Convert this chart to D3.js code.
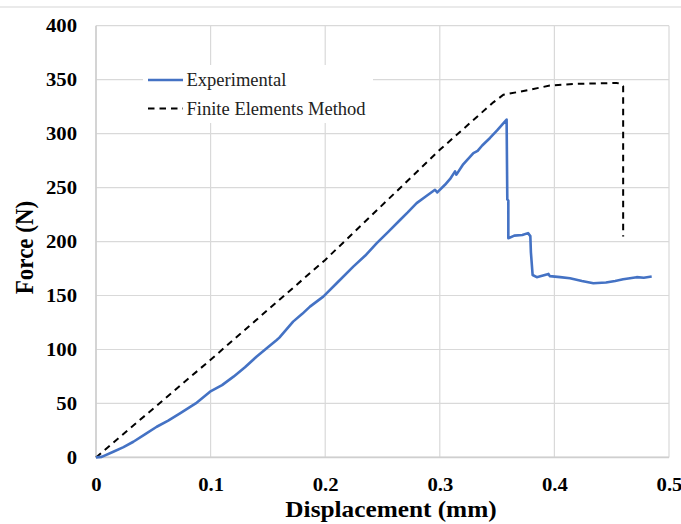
<!DOCTYPE html>
<html>
<head>
<meta charset="utf-8">
<script src="https://cdn.jsdelivr.net/npm/d3@7"></script>
<style>
  html, body { margin: 0; padding: 0; background: #fff; }
  svg { display: block; }
</style>
</head>
<body>
<svg id="chart" width="681" height="524"></svg>
<script>
// ---- data ----
const xTicks = [0, 0.1, 0.2, 0.3, 0.4, 0.5];
const xTickLabels = ["0", "0.1", "0.2", "0.3", "0.4", "0.5"];
const yTicks = [0, 50, 100, 150, 200, 250, 300, 350, 400];
const yTickLabels = ["0", "50", "100", "150", "200", "250", "300", "350", "400"];
const seriesNames = ["Experimental", "Finite Elements Method"];

const expX = [0, 0.005, 0.0151, 0.024, 0.0326, 0.043, 0.053, 0.063, 0.0733, 0.087, 0.0995, 0.11, 0.12, 0.13, 0.14, 0.15, 0.1577, 0.16, 0.172, 0.18, 0.1867, 0.1983, 0.21, 0.2245, 0.235, 0.245, 0.255, 0.2653, 0.272, 0.2798, 0.288, 0.2958, 0.2978, 0.3045, 0.309, 0.3133, 0.3145, 0.32, 0.3293, 0.333, 0.337, 0.3438, 0.35, 0.3583, 0.3589, 0.3598, 0.3598, 0.365, 0.372, 0.377, 0.379, 0.3795, 0.381, 0.3846, 0.3948, 0.396, 0.405, 0.4136, 0.424, 0.434, 0.445, 0.453, 0.46, 0.4718, 0.478, 0.4849];
const expY = [0, 0.5, 5.2, 9.5, 14.5, 21.5, 28.4, 34, 40.8, 50, 60.9, 67, 74.8, 83.5, 93.3, 102, 108.8, 111, 125.8, 133, 139.7, 149, 161.4, 176.8, 187, 198.5, 209, 220, 227, 235.6, 242, 248, 245.5, 252.6, 258, 265, 262, 271, 282, 284, 289, 296, 303, 313, 239, 238, 203, 205.5, 206, 207.8, 205, 190, 169, 167, 170, 168, 167, 166, 163.5, 161.4, 162, 163.5, 165, 167, 166.5, 167.6];

const femX = [0, 0.1, 0.2, 0.3, 0.3467, 0.3555, 0.373, 0.396, 0.4165, 0.4543, 0.4585, 0.46, 0.46];
const femY = [0, 90.5, 183, 285, 329, 336, 339.5, 344.5, 346, 347, 346, 343.8, 204.6];

// ---- layout ----
const FONT = "'Liberation Serif', 'Times New Roman', serif";
const svg = d3.select("#chart");
const x = d3.scaleLinear().domain([0, 0.5]).range([96, 669]);
const y = d3.scaleLinear().domain([0, 400]).range([457.4, 25.7]);

// top border line
svg.append("line").attr("x1", 0).attr("x2", 681).attr("y1", 7).attr("y2", 7)
  .attr("stroke", "#e3e3e3").attr("stroke-width", 1.5);

// gridlines
const grid = svg.append("g");
grid.selectAll(".hg").data(yTicks).join("line")
  .attr("x1", x(0)).attr("x2", x(0.5))
  .attr("y1", d => y(d)).attr("y2", d => y(d))
  .attr("stroke", "#d9d9d9").attr("stroke-width", 1.2);
grid.selectAll(".vg").data(xTicks).join("line")
  .attr("x1", d => x(d)).attr("x2", d => x(d))
  .attr("y1", y(0)).attr("y2", y(400))
  .attr("stroke", "#d9d9d9").attr("stroke-width", 1.2);
svg.append("line").attr("x1", x(0)).attr("x2", x(0)).attr("y1", y(0)).attr("y2", y(400))
  .attr("stroke", "#cfcfcf").attr("stroke-width", 1.6);
svg.append("line").attr("x1", x(0)).attr("x2", x(0.5)).attr("y1", y(0)).attr("y2", y(0))
  .attr("stroke", "#cfcfcf").attr("stroke-width", 1.6);

// axes (labels only); text is stretched horizontally like the reference
const SX = 1.15;
const xAxis = d3.axisBottom(x).tickValues(xTicks).tickSize(0).tickPadding(21)
  .tickFormat((d, i) => xTickLabels[i]);
const gx = svg.append("g").attr("transform", `translate(0,${y(0)})`).call(xAxis);
gx.select(".domain").remove();
gx.selectAll("text").attr("font-family", FONT)
  .attr("font-weight", "bold").attr("font-size", 18).attr("fill", "#000")
  .attr("transform", `scale(${SX},1)`);

const yAxis = d3.axisLeft(y).tickValues(yTicks).tickSize(0).tickPadding(19)
  .tickFormat((d, i) => yTickLabels[i]);
const gy = svg.append("g").attr("transform", `translate(${x(0)},0)`).call(yAxis);
gy.select(".domain").remove();
gy.selectAll("text").attr("font-family", FONT)
  .attr("font-weight", "bold").attr("font-size", 18).attr("fill", "#000")
  .attr("x", -19 / SX).attr("dy", "0.33em")
  .attr("transform", `scale(${SX},1)`);

// axis titles
svg.append("text").attr("transform", "translate(391,517) scale(1.1,1)").attr("text-anchor", "middle")
  .attr("font-family", FONT)
  .attr("font-weight", "bold").attr("font-size", 23).text("Displacement (mm)");
svg.append("text").attr("transform", "translate(32.5,247.5) rotate(-90) scale(1,1.1)").attr("text-anchor", "middle")
  .attr("font-family", FONT)
  .attr("font-weight", "bold").attr("font-size", 23).text("Force (N)");

// lines
const line = d3.line().x(d => x(d[0])).y(d => y(d[1]));
const expData = expX.map((v, i) => [v, expY[i]]);
const femData = femX.map((v, i) => [v, femY[i]]);

svg.append("path").datum(femData).attr("d", line)
  .attr("fill", "none").attr("stroke", "#000").attr("stroke-width", 2)
  .attr("stroke-dasharray", "6.5,5");
svg.append("path").datum(expData).attr("d", line)
  .attr("fill", "none").attr("stroke", "#4472C4").attr("stroke-width", 2.6)
  .attr("stroke-linejoin", "round");

// legend
const lg = svg.append("g");
lg.append("rect").attr("x", 143).attr("y", 65).attr("width", 230).attr("height", 58).attr("fill", "#fff");
lg.append("line").attr("x1", 148).attr("x2", 183).attr("y1", 80).attr("y2", 80)
  .attr("stroke", "#4472C4").attr("stroke-width", 2.5);
lg.append("line").attr("x1", 148).attr("x2", 183).attr("y1", 108.5).attr("y2", 108.5)
  .attr("stroke", "#000").attr("stroke-width", 2).attr("stroke-dasharray", "6.5,5");
lg.selectAll("text").data(seriesNames).join("text")
  .attr("transform", (d, i) => `translate(186.5,${86 + i * 28.5}) scale(1.03,1)`)
  .attr("font-family", FONT)
  .attr("font-size", 18).attr("fill", "#222").text(d => d);
</script>
</body>
</html>
